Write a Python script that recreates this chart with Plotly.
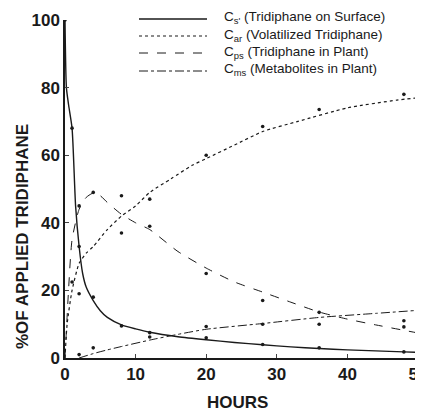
import plotly.graph_objects as go

# Fitted curves
cs_t = [0, 0.2, 0.5, 1, 1.5, 2, 2.5, 3, 4, 5, 6, 8, 10, 12, 16, 20, 24, 28, 32, 36, 40, 44, 48, 50]
cs_y = [100, 80, 75, 68, 45, 33, 25, 21, 17, 14, 12, 9.8, 8.6, 7.6, 6.3, 5.4, 4.6, 3.9, 3.3, 2.8, 2.4, 2.1, 1.8, 1.7]

car_t = [0, 0.3, 1, 2, 3, 4, 6, 8, 10, 12, 15, 18, 20, 24, 28, 33, 40, 47, 50]
car_y = [0, 10, 20, 28, 31, 33, 38, 42, 45, 49, 53, 57, 59, 63, 67, 70, 74, 76.3, 77]

cps_t = [0, 0.5, 1, 2, 3, 4, 5, 6, 8, 10, 12, 16, 20, 24, 28, 32, 36, 40, 44, 50]
cps_y = [0, 20, 35, 44, 47.5, 48.8, 48, 46, 42.5, 40, 38, 31.5, 26.6, 22.5, 19.5, 16.5, 13.6, 11.5, 9.8, 7.4]

cms_t = [2, 4, 6, 8, 12, 16, 20, 28, 36, 44, 50]
cms_y = [0, 1.3, 2.4, 3.4, 5.3, 7, 8.5, 10.2, 12, 13.2, 14.1]

# Measured points
cs_pt_t = [0, 1, 2, 4, 8, 12, 20, 28, 36, 48]
cs_pt_y = [100, 68, 33, 18, 9.5, 7.5, 6, 4, 3, 1.8]
car_pt_t = [1, 2, 8, 12, 20, 28, 36, 48]
car_pt_y = [22.5, 19, 37, 47, 60, 68.5, 73.5, 78]
cps_pt_t = [2, 4, 8, 12, 20, 28, 36, 48]
cps_pt_y = [45, 49, 48, 39, 25, 17, 13.5, 11]
cms_pt_t = [2, 4, 12, 20, 28, 36, 48]
cms_pt_y = [1, 3, 6.2, 9.3, 10, 10, 9.2]

names = ["C<sub>s'</sub> (Tridiphane on Surface)",
         "C<sub>ar</sub> (Volatilized Tridiphane)",
         "C<sub>ps</sub> (Tridiphane in Plant)",
         "C<sub>ms</sub> (Metabolites in Plant)"]

x_ticks = [0, 10, 20, 30, 40, 50]
y_ticks = [0, 20, 40, 60, 80, 100]

col = "#1a1a1a"
W, H = 415, 403          # page body has an 8px margin
L, R, T, B = 57, 5, 12, 53
PW, PH = W - L - R, H - T - B


def px(xw):  # window pixel -> paper x
    return (xw - 8 - L) / PW


def py(yw):  # window pixel -> paper y
    return (H - B - (yw - 8)) / PH


fig = go.Figure()
styles = [("solid", 1.4), ("dot", 1.2), ("dash", 1.0), ("dashdot", 1.0)]
curves = [(cs_t, cs_y), (car_t, car_y), (cps_t, cps_y), (cms_t, cms_y)]
for (t, y), (d, w), n in zip(curves, styles, names):
    fig.add_trace(go.Scatter(x=t, y=y, mode="lines", name=n, showlegend=False,
                             line=dict(color=col, width=w, dash=d, shape="spline", smoothing=0.6)))
for t, y in [(cs_pt_t, cs_pt_y), (car_pt_t, car_pt_y), (cps_pt_t, cps_pt_y), (cms_pt_t, cms_pt_y)]:
    fig.add_trace(go.Scatter(x=t, y=y, mode="markers", showlegend=False,
                             marker=dict(color=col, size=3.6)))

# manual legend (keys + labels)
legend_rows = [18, 35, 52, 70]
annotations = []
shapes = []
for row, (d, w), n in zip(legend_rows, styles, names):
    shapes.append(dict(type="line", xref="paper", yref="paper",
                       x0=px(139), x1=px(207), y0=py(row + 1), y1=py(row + 1),
                       line=dict(color=col, width=w, dash=d)))
    annotations.append(dict(text=n, x=px(222), y=py(row), xref="paper", yref="paper",
                            xanchor="left", yanchor="middle", showarrow=False,
                            font=dict(size=13.5, color=col)))

annotations += [
    dict(text="HOURS", x=px(237), y=py(403), xref="paper", yref="paper", showarrow=False,
         xanchor="center", yanchor="middle", font=dict(size=17, weight="bold", color=col)),
    dict(text="%OF APPLIED TRIDIPHANE", x=px(22), y=py(237), xref="paper", yref="paper",
         xanchor="center", yanchor="middle",
         showarrow=False, textangle=-90, font=dict(size=17, weight="bold", color=col)),
]

fig.update_layout(
    width=W, height=H,
    margin=dict(l=L, r=R, t=T, b=B, autoexpand=False),
    paper_bgcolor="white", plot_bgcolor="white",
    font=dict(family="Liberation Sans, Arial, sans-serif", color=col),
    showlegend=False,
    xaxis=dict(range=[0, 50], tickvals=x_ticks, ticks="inside", ticklen=4,
               showline=True, linecolor=col, linewidth=1.5, showgrid=False, zeroline=False,
               automargin=False,
               tickfont=dict(size=17, family="Liberation Sans, Arial", weight="bold"),
               ticklabeloverflow="allow"),
    yaxis=dict(range=[0, 100], tickvals=y_ticks, ticks="inside", ticklen=4,
               showline=True, linecolor=col, linewidth=1.5, showgrid=False, zeroline=False,
               automargin=False,
               tickfont=dict(size=17, family="Liberation Sans, Arial", weight="bold")),
    annotations=annotations,
    shapes=shapes,
)

fig.write_html("out.html")
